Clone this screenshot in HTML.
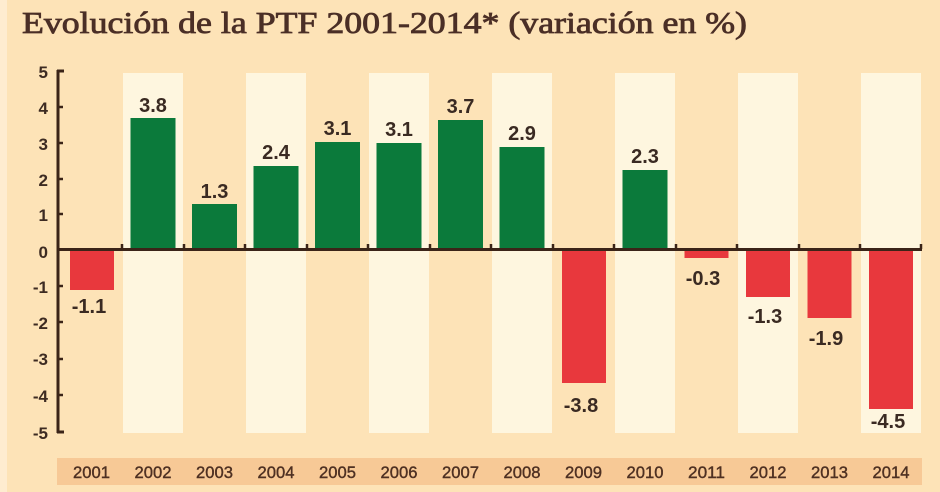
<!DOCTYPE html>
<html>
<head>
<meta charset="utf-8">
<style>
  html, body { margin: 0; padding: 0; background: #fde3b7; }
  svg { display: block; }
</style>
</head>
<body>
<svg width="940" height="492" viewBox="0 0 940 492" xmlns="http://www.w3.org/2000/svg">
  <rect x="0" y="0" width="940" height="492" fill="#fde3b7"/>
  <rect x="0" y="0" width="7" height="492" fill="#feecd0"/>

  <!-- Title -->
  <text x="22" y="33" font-family="'Liberation Serif', serif" font-size="31" fill="#4b2f26" stroke="#4b2f26" stroke-width="0.8" textLength="725" lengthAdjust="spacingAndGlyphs">Evolución de la PTF 2001-2014* (variación en %)</text>

  <!-- light stripes (even years) -->
  <g fill="#fef6df">
    <rect x="123" y="73" width="60" height="360"/>
    <rect x="246" y="73" width="60" height="360"/>
    <rect x="369" y="73" width="60" height="360"/>
    <rect x="492" y="73" width="60" height="360"/>
    <rect x="615" y="73" width="60" height="360"/>
    <rect x="738" y="73" width="60" height="360"/>
    <rect x="861" y="73" width="60" height="360"/>
  </g>

  <!-- x band -->
  <rect x="57" y="458" width="865" height="27" fill="#f7c996"/>

  <!-- bars -->
  <g fill="#0b7a3b">
    <rect x="130.5" y="118" width="45" height="132"/>
    <rect x="192" y="204" width="45" height="46"/>
    <rect x="253.5" y="166" width="45" height="84"/>
    <rect x="315" y="142" width="45" height="108"/>
    <rect x="376.5" y="143" width="45" height="107"/>
    <rect x="438" y="120" width="45" height="130"/>
    <rect x="499.5" y="147" width="45" height="103"/>
    <rect x="622.5" y="170" width="45" height="80"/>
  </g>
  <g fill="#e8383d">
    <rect x="70" y="249" width="44" height="41"/>
    <rect x="562" y="249" width="44" height="134"/>
    <rect x="684.5" y="249" width="44" height="9"/>
    <rect x="746" y="249" width="44" height="48"/>
    <rect x="807.5" y="249" width="44" height="69"/>
    <rect x="869" y="249" width="44" height="160"/>
  </g>

  <!-- zero line and axis -->
  <g stroke="#3b2418" stroke-width="3" fill="none">
    <line x1="58" y1="249.5" x2="922" y2="249.5"/>
    <line x1="58" y1="70" x2="58" y2="433"/>
    <line x1="57" y1="71" x2="64" y2="71"/>
    <line x1="57" y1="432" x2="64" y2="432"/>
  </g>
  <g stroke="#3b2418" stroke-width="2.5">
    <line x1="58" y1="107" x2="63" y2="107"/>
    <line x1="58" y1="143" x2="63" y2="143"/>
    <line x1="58" y1="179" x2="63" y2="179"/>
    <line x1="58" y1="214" x2="63" y2="214"/>
    <line x1="58" y1="286" x2="63" y2="286"/>
    <line x1="58" y1="322" x2="63" y2="322"/>
    <line x1="58" y1="359" x2="63" y2="359"/>
    <line x1="58" y1="395" x2="63" y2="395"/>
  </g>
  <g stroke="#3b2418" stroke-width="2.5">
    <line x1="122" y1="244" x2="122" y2="249"/>
    <line x1="184" y1="244" x2="184" y2="249"/>
    <line x1="245" y1="244" x2="245" y2="249"/>
    <line x1="307" y1="244" x2="307" y2="249"/>
    <line x1="368" y1="244" x2="368" y2="249"/>
    <line x1="430" y1="244" x2="430" y2="249"/>
    <line x1="491" y1="244" x2="491" y2="249"/>
    <line x1="553" y1="244" x2="553" y2="249"/>
    <line x1="614" y1="244" x2="614" y2="249"/>
    <line x1="676" y1="244" x2="676" y2="249"/>
    <line x1="737" y1="244" x2="737" y2="249"/>
    <line x1="799" y1="244" x2="799" y2="249"/>
    <line x1="860" y1="244" x2="860" y2="249"/>
    <line x1="921" y1="244" x2="921" y2="249"/>
  </g>

  <!-- y tick labels -->
  <g font-family="'Liberation Sans', sans-serif" font-weight="bold" font-size="17" fill="#3d2b22" text-anchor="end">
    <text x="48" y="78">5</text>
    <text x="48" y="114">4</text>
    <text x="48" y="150">3</text>
    <text x="48" y="186">2</text>
    <text x="48" y="221">1</text>
    <text x="48" y="258">0</text>
    <text x="48" y="293">-1</text>
    <text x="48" y="329">-2</text>
    <text x="48" y="365">-3</text>
    <text x="48" y="402">-4</text>
    <text x="48" y="439">-5</text>
  </g>

  <!-- value labels -->
  <g font-family="'Liberation Sans', sans-serif" font-weight="bold" font-size="20" fill="#3a2a22" text-anchor="middle">
    <text x="153" y="112">3.8</text>
    <text x="214.5" y="198">1.3</text>
    <text x="276" y="159">2.4</text>
    <text x="337.5" y="135">3.1</text>
    <text x="399" y="136">3.1</text>
    <text x="460.5" y="113">3.7</text>
    <text x="522" y="140">2.9</text>
    <text x="645" y="163">2.3</text>
    <text x="89" y="313">-1.1</text>
    <text x="581" y="412">-3.8</text>
    <text x="703" y="285">-0.3</text>
    <text x="765" y="323">-1.3</text>
    <text x="826" y="345">-1.9</text>
    <text x="888" y="428">-4.5</text>
  </g>

  <!-- year labels -->
  <g font-family="'Liberation Sans', sans-serif" font-size="17" fill="#4e3022" stroke="#4e3022" stroke-width="0.4" text-anchor="middle">
    <text x="91.5" y="478" textLength="37" lengthAdjust="spacingAndGlyphs">2001</text>
    <text x="153" y="478" textLength="37" lengthAdjust="spacingAndGlyphs">2002</text>
    <text x="214.5" y="478" textLength="37" lengthAdjust="spacingAndGlyphs">2003</text>
    <text x="276" y="478" textLength="37" lengthAdjust="spacingAndGlyphs">2004</text>
    <text x="337.5" y="478" textLength="37" lengthAdjust="spacingAndGlyphs">2005</text>
    <text x="399" y="478" textLength="37" lengthAdjust="spacingAndGlyphs">2006</text>
    <text x="460.5" y="478" textLength="37" lengthAdjust="spacingAndGlyphs">2007</text>
    <text x="522" y="478" textLength="37" lengthAdjust="spacingAndGlyphs">2008</text>
    <text x="583.5" y="478" textLength="37" lengthAdjust="spacingAndGlyphs">2009</text>
    <text x="645" y="478" textLength="37" lengthAdjust="spacingAndGlyphs">2010</text>
    <text x="706.5" y="478" textLength="37" lengthAdjust="spacingAndGlyphs">2011</text>
    <text x="768" y="478" textLength="37" lengthAdjust="spacingAndGlyphs">2012</text>
    <text x="829.5" y="478" textLength="37" lengthAdjust="spacingAndGlyphs">2013</text>
    <text x="891" y="478" textLength="37" lengthAdjust="spacingAndGlyphs">2014</text>
  </g>
</svg>
</body>
</html>
